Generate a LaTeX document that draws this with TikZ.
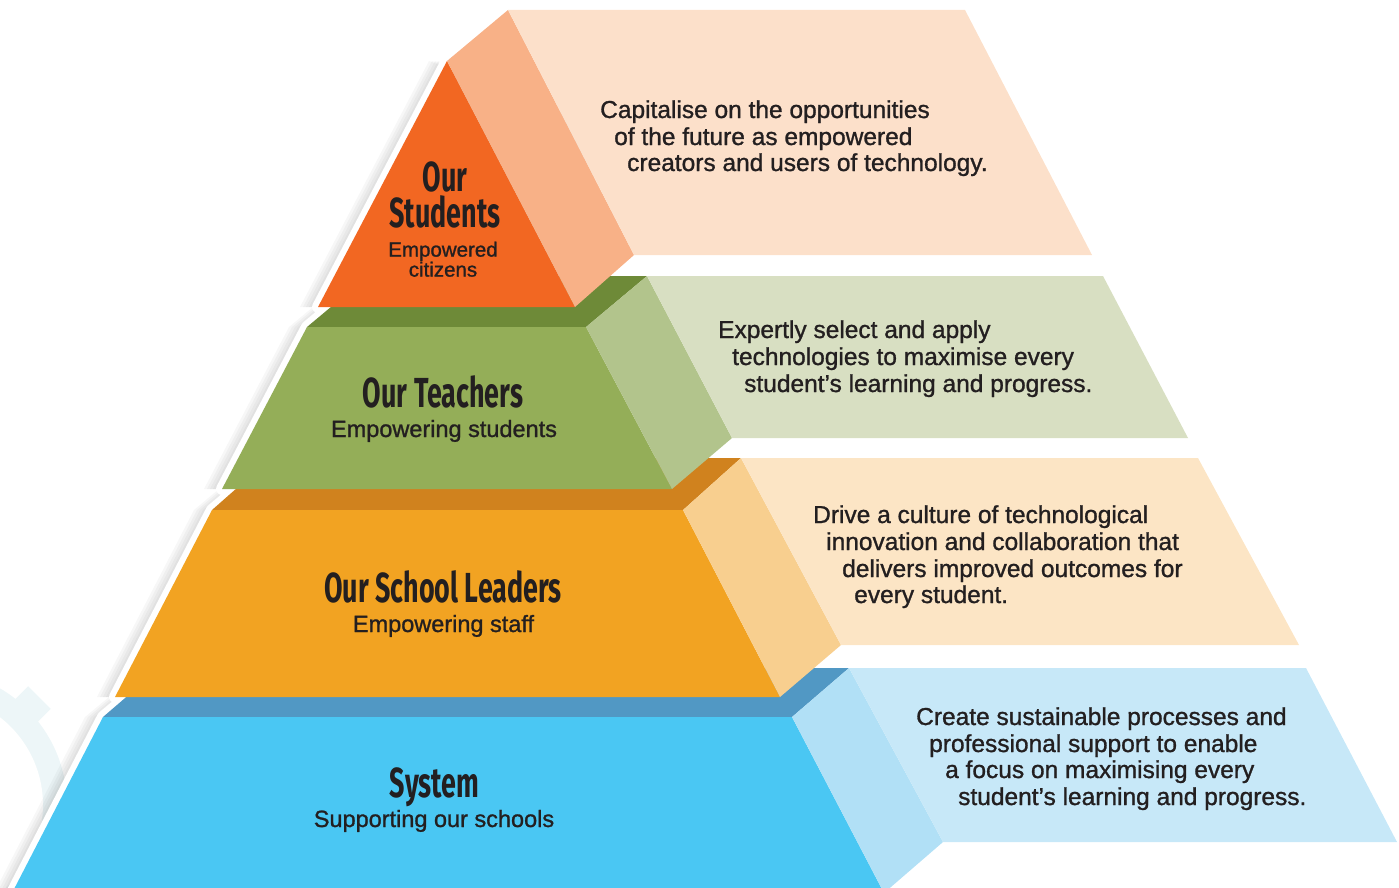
\documentclass[tikz,border=0pt]{standalone}
\usepackage{fontspec}
\setmainfont{Liberation Sans}
\newfontfamily\bodyfont{Liberation Sans}[Ligatures=TeX,FakeBold=1.1]
\newfontfamily\headfont{Fira Sans}[Ligatures=TeX,FakeStretch=0.64]
\usetikzlibrary{calc}

\definecolor{ink}{HTML}{231F20}
\definecolor{gearblue}{HTML}{EDF6F8}
\definecolor{stufront}{HTML}{F26722}
\definecolor{stuside}{HTML}{F8B187}
\definecolor{stupanel}{HTML}{FCE0CA}
\definecolor{tealedge}{HTML}{6E8A38}
\definecolor{teafront}{HTML}{94AE58}
\definecolor{teaside}{HTML}{B2C48C}
\definecolor{teapanel}{HTML}{D8DFC2}
\definecolor{lealedge}{HTML}{D0821E}
\definecolor{leafront}{HTML}{F2A322}
\definecolor{leaside}{HTML}{F8CF8F}
\definecolor{leapanel}{HTML}{FCE5C5}
\definecolor{sysledge}{HTML}{5198C4}
\definecolor{sysfront}{HTML}{4AC7F3}
\definecolor{sysside}{HTML}{B1E0F6}
\definecolor{syspanel}{HTML}{C7E8F8}

\begin{document}
\begin{tikzpicture}[x=1pt, y=-1pt,
      headtext/.style={anchor=base,inner sep=0pt,text=ink,align=center,font=\headfont\bfseries\fontsize{42}{36}\selectfont},
      subtext/.style={anchor=base,inner sep=0pt,text=ink,align=center,font=\bodyfont\fontsize{23.5}{24}\selectfont},
      stusub/.style={subtext,font=\bodyfont\fontsize{20.5}{20}\selectfont},
      bodytext/.style={anchor=base west,inner sep=0pt,text=ink,font=\bodyfont\fontsize{24.5}{26}\selectfont}]
      \useasboundingbox (0,0) rectangle (1399,888);
      \clip (0,0) rectangle (1399,888);

      % corners of the pyramid
      \coordinate (s1) at (447,61);   \coordinate (s2) at (318,307);  \coordinate (s3) at (575,307);
      \coordinate (sb1) at (508,10);  \coordinate (sb2) at (634,255);
      \coordinate (t1) at (307,327);  \coordinate (t2) at (586,327);
      \coordinate (t3) at (672,489);  \coordinate (t4) at (222,489);
      \coordinate (tb1) at (368,276); \coordinate (tb2) at (647,276); \coordinate (tb3) at (732,438);
      \coordinate (l1) at (212,510);  \coordinate (l2) at (683,510);
      \coordinate (l3) at (780,697);  \coordinate (l4) at (115,697);
      \coordinate (lb1) at (271,458); \coordinate (lb2) at (741,458); \coordinate (lb3) at (841,645);
      \coordinate (y1) at (103,717);  \coordinate (y2) at (792,717);
      \coordinate (y3) at (884,893);  \coordinate (y4) at (12,893);
      \coordinate (yb1) at (160,668); \coordinate (yb2) at (849,668); \coordinate (yb3) at (943,842);

      % faint gear behind
      \coordinate (gc) at (-68,805);
      \foreach \a in {0,45,...,315}
        \fill[gearblue,rotate around={\a:(gc)}] ($(gc)+(120,-16)$) rectangle ($(gc)+(152,16)$);
      \fill[gearblue] (gc) circle (135);
      \fill[white] (gc) circle (111);

      % shadow and white rim on the left
      \foreach \k in {3,6,...,18}{
        \begin{scope}[transform canvas={xshift=-\k pt}]
          \fill[black,opacity=0.03] (s1) -- (s2) -- (331,307) -- (t1) -- (t4) -- (237,489) -- (l1) -- (l4)
            -- (127,697) -- (y1) -- (y4) -- (600,893) -- (600,120) -- cycle;
        \end{scope}}
      \draw[white,line width=12,line join=round] (s1) -- (s2) -- (331,307) -- (t1) -- (t4) -- (237,489)
        -- (l1) -- (l4) -- (127,697) -- (y1) -- (y4) -- (600,893) -- (600,120) -- cycle;

      % system
      \fill[sysledge] (y1) -- (y2) -- (yb2) -- (yb1) -- cycle;
      \fill[sysfront] (y1) -- (y2) -- (y3) -- (y4) -- cycle;
      \fill[sysside] (y2) -- (yb2) -- (yb3) -- (y3) -- cycle;
      \fill[syspanel] (yb2) -- (1306,668) -- (1397,842) -- (yb3) -- cycle;

      % school leaders
      \fill[lealedge] (l1) -- (l2) -- (lb2) -- (lb1) -- cycle;
      \fill[leafront] (l1) -- (l2) -- (l3) -- (l4) -- cycle;
      \fill[leaside] (l2) -- (lb2) -- (lb3) -- (l3) -- cycle;
      \fill[leapanel] (lb2) -- (1198,458) -- (1299,645) -- (lb3) -- cycle;

      % teachers
      \fill[tealedge] (t1) -- (t2) -- (tb2) -- (tb1) -- cycle;
      \fill[teafront] (t1) -- (t2) -- (t3) -- (t4) -- cycle;
      \fill[teaside] (t2) -- (tb2) -- (tb3) -- (t3) -- cycle;
      \fill[teapanel] (tb2) -- (1103,276) -- (1188,438) -- (tb3) -- cycle;

      % students
      \fill[stufront] (s1) -- (s3) -- (s2) -- cycle;
      \fill[stuside] (s1) -- (sb1) -- (sb2) -- (s3) -- cycle;
      \fill[stupanel] (sb1) -- (965,10) -- (1092,255) -- (sb2) -- cycle;

      % labels on the fronts
      \node[headtext,anchor=south] (stuhead) at (445,228) {Our\\Students};
      \node[stusub,anchor=south] (stusub) at (443,277) {Empowered\\citizens};
      \node[headtext] (teahead) at (443,407) {Our Teachers};
      \node[subtext] (teasub) at (444,437) {Empowering students};
      \node[headtext] (leahead) at (443,602) {Our School Leaders};
      \node[subtext] (leasub) at (443.5,632) {Empowering staff};
      \node[headtext] (syshead) at (434.5,797) {System};
      \node[subtext] (syssub) at (434,827) {Supporting our schools};

      % texts on the panels
      \node[bodytext] (stu1) at (600,118) {Capitalise on the opportunities};
      \node[bodytext] (stu2) at (614,145) {of the future as empowered};
      \node[bodytext] (stu3) at (627,171) {creators and users of technology.};
      \node[bodytext] (tea1) at (718,338) {Expertly select and apply};
      \node[bodytext] (tea2) at (732,365) {technologies to maximise every};
      \node[bodytext] (tea3) at (744,392) {student's learning and progress.};
      \node[bodytext] (lea1) at (813,523) {Drive a culture of technological};
      \node[bodytext] (lea2) at (826,550) {innovation and collaboration that};
      \node[bodytext] (lea3) at (842,577) {delivers improved outcomes for};
      \node[bodytext] (lea4) at (854,603) {every student.};
      \node[bodytext] (sys1) at (916,725) {Create sustainable processes and};
      \node[bodytext] (sys2) at (929,752) {professional support to enable};
      \node[bodytext] (sys3) at (945,778) {a focus on maximising every};
      \node[bodytext] (sys4) at (958,805) {student's learning and progress.};
    \end{tikzpicture}
\end{document}
